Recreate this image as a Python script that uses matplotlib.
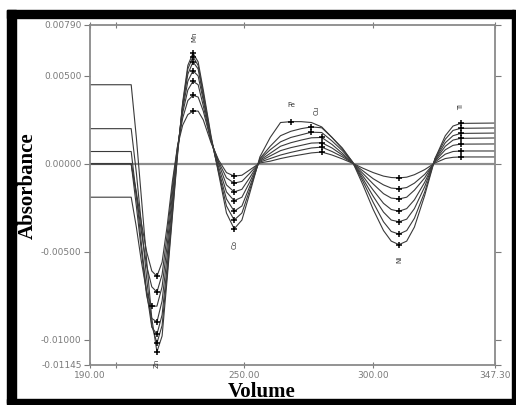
import numpy as np
import matplotlib
matplotlib.use("Agg")
import matplotlib.pyplot as plt
from matplotlib.patches import Rectangle


# =========================================
# Data (absorbance in units of 1e-3)
# =========================================
volume = [190, 206, 208, 210, 212, 214, 216, 218, 220, 222, 224, 226, 228, 230, 232, 234,
          237, 240, 243, 246, 249, 252,
          256, 260, 264, 268, 272, 276, 280, 284, 288, 292,
          296, 300, 304, 307, 310, 313, 316, 320, 324, 328, 331, 334, 347.3]

curve_a = [4.5, 4.5, 1.5, -2.0, -5.5, -8.8, -10.7, -9.8, -6.5, -3.0, 0.5, 3.5, 5.6, 6.3, 5.8, 4.2,
           1.6, -0.6, -2.8, -3.7, -3.2, -1.7,
           0.4, 1.5, 2.35, 2.4, 2.4, 2.35, 2.1, 1.5, 0.9, 0.1,
           -1.2, -2.6, -3.8, -4.4, -4.6, -4.4, -3.6, -1.8, 0.3, 1.6, 2.15, 2.3, 2.32]
curve_b = [2.0, 2.0, -0.5, -3.5, -6.5, -9.2, -10.2, -9.2, -6.2, -2.8, 0.6, 3.4, 5.4, 6.1, 5.6, 4.0,
           1.5, -0.5, -2.4, -3.2, -2.8, -1.5,
           0.3, 1.0, 1.6, 1.85, 2.0, 2.1, 2.05, 1.5, 0.85, 0.1,
           -1.0, -2.2, -3.3, -3.85, -4.0, -3.8, -3.1, -1.6, 0.3, 1.4, 1.9, 2.02, 2.04]
curve_c = [0.7, 0.7, -1.8, -4.6, -7.3, -9.3, -9.7, -8.6, -5.8, -2.5, 0.7, 3.3, 5.1, 5.8, 5.4, 3.8,
           1.4, -0.4, -2.0, -2.7, -2.4, -1.3,
           0.25, 0.8, 1.25, 1.5, 1.65, 1.8, 1.78, 1.3, 0.75, 0.08,
           -0.85, -1.85, -2.75, -3.2, -3.3, -3.15, -2.55, -1.3, 0.25, 1.2, 1.6, 1.73, 1.75]
curve_d = [0.0, 0.0, -2.4, -5.0, -7.5, -8.8, -9.0, -7.8, -5.2, -2.1, 0.8, 3.1, 4.7, 5.3, 5.0, 3.6,
           1.4, -0.2, -1.6, -2.1, -1.9, -1.05,
           0.2, 0.6, 1.0, 1.2, 1.35, 1.48, 1.5, 1.1, 0.6, 0.06,
           -0.7, -1.5, -2.25, -2.6, -2.7, -2.55, -2.05, -1.05, 0.2, 1.0, 1.35, 1.45, 1.47]
curve_e = [-1.9, -1.9, -3.6, -5.6, -7.3, -8.1, -8.1, -7.0, -4.6, -1.7, 0.9, 2.9, 4.2, 4.7, 4.5, 3.3,
           1.3, 0.0, -1.2, -1.6, -1.45, -0.8,
           0.15, 0.45, 0.75, 0.92, 1.05, 1.18, 1.2, 0.9, 0.5, 0.05,
           -0.55, -1.15, -1.7, -1.95, -2.0, -1.9, -1.5, -0.8, 0.15, 0.8, 1.05, 1.12, 1.13]
curve_f = [0.0, 0.0, -1.8, -3.9, -5.8, -7.0, -7.3, -6.3, -4.0, -1.3, 1.0, 2.6, 3.6, 3.9, 3.8, 3.0,
           1.3, 0.1, -0.8, -1.1, -1.0, -0.55,
           0.1, 0.3, 0.5, 0.65, 0.78, 0.9, 0.95, 0.7, 0.4, 0.04,
           -0.4, -0.85, -1.2, -1.38, -1.42, -1.35, -1.1, -0.6, 0.1, 0.55, 0.7, 0.73, 0.73]
curve_g = [0.0, 0.0, -1.6, -3.4, -5.0, -6.1, -6.4, -5.6, -3.5, -1.0, 1.0, 2.2, 2.8, 3.0, 3.0, 2.5,
           1.2, 0.2, -0.5, -0.7, -0.65, -0.35,
           0.05, 0.15, 0.3, 0.42, 0.52, 0.62, 0.67, 0.5, 0.28, 0.03,
           -0.25, -0.5, -0.7, -0.78, -0.8, -0.76, -0.62, -0.33, 0.05, 0.3, 0.37, 0.39, 0.39]

curves = [curve_a, curve_b, curve_c, curve_d, curve_e, curve_f, curve_g]

# volume windows where the "+" marks sit (extremum search) and their labels
mark_windows = [(212, 220, "min"), (226, 234, "max"), (243, 252, "min"),
                (264, 284, "max"), (304, 316, "min"), (334, 334, "max")]
peak_labels = [("Zn", 216, -11.35, 90), ("Mn", 230.5, 7.25, 90), ("Co", 246, -4.6, 90),
               ("Fe", 268, 3.35, 0), ("Cu", 278, 3.05, 90), ("Ni", 310, -5.45, 90),
               ("Ti", 334, 3.25, 90)]

x_tick_pos = [190, 250, 300, 347.3]
x_tick_lab = ["190.00", "250.00", "300.00", "347.30"]
y_tick_pos = [0.0079, 0.005, 0.0, -0.005, -0.01, -0.01145]
y_tick_lab = ["0.00790", "0.00500", "0.00000", "-0.00500", "-0.01000", "-0.01145"]


# =========================================
# Figure
# =========================================
W, H = 516, 405
fig = plt.figure(figsize=(W / 100, H / 100), dpi=100)
fig.patch.set_facecolor("white")

ax = fig.add_axes([90 / W, 1 - 365 / H, 405 / W, 340 / H])

vol = np.array(volume)

# baseline
ax.axhline(0, color="#8c8c8c", lw=1.6, zorder=1)

for c in curves:
    y = np.array(c) * 1e-3
    ax.plot(vol, y, color="#3a3a3a", lw=0.8, zorder=2)

    # "+" marks at extrema
    for lo, hi, kind in mark_windows:
        idx = np.where((vol >= lo) & (vol <= hi))[0]
        sub = y[idx]
        k = idx[np.argmin(sub)] if kind == "min" else idx[np.argmax(sub)]
        ax.plot(vol[k], y[k], marker="+", ms=5, mew=1.1, color="black", zorder=3)

for txt, xv, yv, rot in peak_labels:
    ax.text(xv, yv * 1e-3, txt, fontsize=5, rotation=rot, ha="center", va="center",
            color="#333333")

ax.set_xlim(190, 347.3)
ax.set_ylim(-0.01145, 0.0079)

ax.set_xticks(x_tick_pos)
ax.set_xticklabels(x_tick_lab)
ax.set_xticks([200], minor=True)
ax.set_yticks(y_tick_pos)
ax.set_yticklabels(y_tick_lab)

ax.tick_params(axis="both", which="both", labelsize=6.5, labelcolor="#7a7a7a",
               color="#7a7a7a", width=0.8)
ax.tick_params(axis="y", direction="out", length=4, pad=2, right=True)
ax.tick_params(axis="x", which="both", direction="inout", length=5, pad=2, top=True)

for s in ax.spines.values():
    s.set_color("#8a8a8a")
    s.set_linewidth(1.3)

# axis titles
fig.text(28 / W, 1 - 186 / H, "Absorbance", rotation=90, ha="center", va="center",
         fontsize=15, fontweight="bold", family="Liberation Serif")
fig.text(262 / W, 1 - 392 / H, "Volume", ha="center", va="center",
         fontsize=15, fontweight="bold", family="Liberation Serif")

# black frame around the picture
for (x0, y0, w, h) in [(7, 10, 507, 8), (7, 10, 9, 393), (7, 399, 507, 6), (512, 10, 4, 395)]:
    fig.patches.append(Rectangle((x0 / W, 1 - (y0 + h) / H), w / W, h / H,
                                 transform=fig.transFigure, color="black", zorder=10))

fig.savefig("out.png", dpi=100)
plt.close(fig)
